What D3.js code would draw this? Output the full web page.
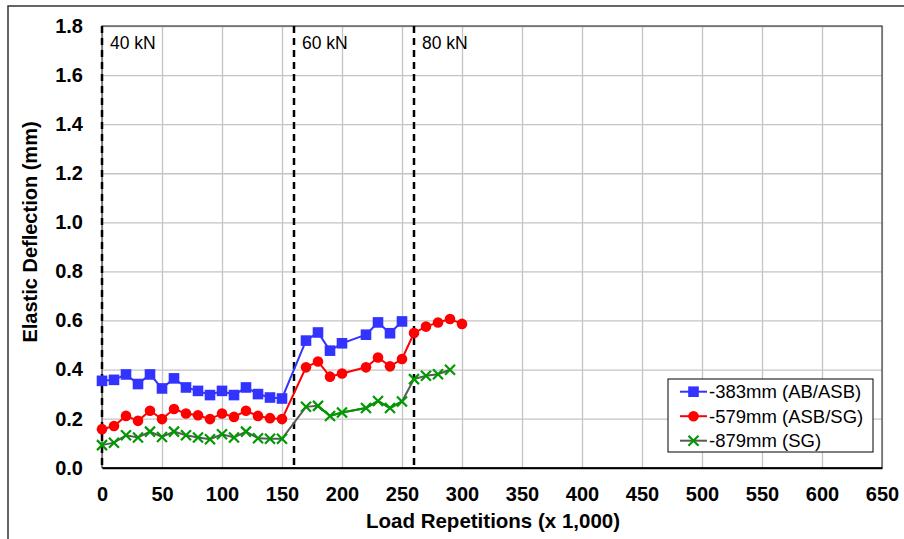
<!DOCTYPE html>
<html>
<head>
<meta charset="utf-8">
<script src="https://cdn.jsdelivr.net/npm/d3@7"></script>
<style>
  body { margin: 0; background: #fff; }
  svg { display: block; font-family: "Liberation Sans", Arial, sans-serif; }
  .tick text { font-weight: bold; font-size: 20px; fill: #000; }
</style>
</head>
<body>
<svg id="chart"></svg>
<script>
// load repetitions (x 1,000) and elastic deflection (mm) per gauge depth
const xAB  = [0,10,20,30,40,50,60,70,80,90,100,110,120,130,140,150,170,180,190,200,220,230,240,250];
const yAB  = [0.354,0.358,0.380,0.341,0.380,0.323,0.364,0.327,0.313,0.296,0.313,0.296,0.327,0.300,0.286,0.282,
              0.518,0.551,0.477,0.507,0.542,0.592,0.548,0.596];
const xASB = [0,10,20,30,40,50,60,70,80,90,100,110,120,130,140,150,170,180,190,200,220,230,240,250,260,270,280,290,300];
const yASB = [0.157,0.170,0.211,0.191,0.232,0.198,0.239,0.221,0.214,0.198,0.221,0.207,0.232,0.211,0.202,0.198,
              0.409,0.433,0.371,0.384,0.409,0.449,0.413,0.443,0.549,0.575,0.592,0.606,0.586];
const xSG  = [0,10,20,30,40,50,60,70,80,90,100,110,120,130,140,150,170,180,190,200,220,230,240,250,260,270,280,290];
const ySG  = [0.092,0.102,0.132,0.123,0.147,0.125,0.147,0.132,0.123,0.116,0.136,0.123,0.147,0.120,0.118,0.118,
              0.248,0.252,0.211,0.225,0.243,0.272,0.243,0.270,0.361,0.375,0.381,0.399];
const seriesNames = ["-383mm (AB/ASB)", "-579mm (ASB/SG)", "-879mm (SG)"];
const stageX = [0, 160, 260];
const stageLabels = ["40 kN", "60 kN", "80 kN"];
const xTicks = d3.range(0, 651, 50);
const yTicks = [0, 0.2, 0.4, 0.6, 0.8, 1.0, 1.2, 1.4, 1.6, 1.8];

const config = {
  width: 904, height: 539,
  margin: { top: 26, left: 102, right: 22, bottom: 72 }
};
const W = config.width - config.margin.left - config.margin.right;
const H = config.height - config.margin.top - config.margin.bottom + 0.7;

const svg = d3.select('#chart')
    .attr('width', config.width)
    .attr('height', config.height);

// outer frame (right/bottom edges run off the picture)
svg.append('rect')
    .attr('x', 8).attr('y', 6)
    .attr('width', 920).attr('height', 560)
    .attr('fill', 'none').attr('stroke', '#333').attr('stroke-width', 1.5);

const chart = svg.append('g')
    .attr('transform', `translate(${config.margin.left},${config.margin.top})`);

const xScale = d3.scaleLinear().domain([0, 650]).range([0, W]);
const yScale = d3.scaleLinear().domain([0, 1.8]).range([H, 0]);

// gridlines
chart.append('g')
    .call(d3.axisBottom(xScale).tickValues(xTicks).tickSize(H).tickFormat(''))
    .call(g => g.select('.domain').remove())
    .selectAll('line').attr('stroke', '#c4c4c4').attr('stroke-width', 1.3);
chart.append('g')
    .call(d3.axisLeft(yScale).tickValues(yTicks).tickSize(-W).tickFormat(''))
    .call(g => g.select('.domain').remove())
    .selectAll('line').attr('stroke', '#c4c4c4').attr('stroke-width', 1.3);

// plot frame
chart.append('rect')
    .attr('width', W).attr('height', H)
    .attr('fill', 'none').attr('stroke', '#444').attr('stroke-width', 1.2);

// axes (labels only)
const xAxisG = chart.append('g')
    .attr('transform', `translate(0,${H})`)
    .call(d3.axisBottom(xScale).tickValues(xTicks).tickSize(0).tickPadding(19).tickFormat(d3.format('d')));
xAxisG.select('.domain').attr('stroke', '#000').attr('stroke-width', 2);

const yAxisG = chart.append('g')
    .call(d3.axisLeft(yScale).tickValues(yTicks).tickSize(0).tickPadding(19).tickFormat(d3.format('.1f')));
yAxisG.select('.domain').remove();

// load stage separators
chart.selectAll('.stage')
    .data(stageX)
    .join('line')
    .attr('class', 'stage')
    .attr('x1', d => xScale(d)).attr('x2', d => xScale(d))
    .attr('y1', 0).attr('y2', H)
    .attr('stroke', '#000').attr('stroke-width', 2.5)
    .attr('stroke-dasharray', '7,5');

chart.selectAll('.stage-label')
    .data(stageX)
    .join('text')
    .attr('class', 'stage-label')
    .attr('x', d => xScale(d) + 8)
    .attr('y', 23)
    .style('font-size', '17.5px')
    .text((d, i) => stageLabels[i]);

const line = d3.line()
    .x(d => xScale(d[0]))
    .y(d => yScale(d[1]));

const dAB  = xAB.map((x, i) => [x, yAB[i]]);
const dASB = xASB.map((x, i) => [x, yASB[i]]);
const dSG  = xSG.map((x, i) => [x, ySG[i]]);

const blue = '#3333ff', red = '#ff0000', green = '#009900', gray = '#595959';

// SG line: gray, with the 60 kN middle stretch drawn green
chart.append('path').datum(dSG)
    .attr('fill', 'none').attr('stroke', gray).attr('stroke-width', 2).attr('d', line);
chart.append('path').datum(dSG.filter(d => d[0] >= 180 && d[0] <= 250))
    .attr('fill', 'none').attr('stroke', green).attr('stroke-width', 2).attr('d', line);

chart.append('path').datum(dASB)
    .attr('fill', 'none').attr('stroke', red).attr('stroke-width', 2).attr('d', line);
chart.append('path').datum(dAB)
    .attr('fill', 'none').attr('stroke', blue).attr('stroke-width', 2).attr('d', line);

function cross(g, s) {
  g.append('path')
    .attr('d', `M${-s},${-s}L${s},${s}M${-s},${s}L${s},${-s}`)
    .attr('stroke', green).attr('stroke-width', 2.2).attr('fill', 'none');
}

chart.selectAll('.m-sg').data(dSG).join('g')
    .attr('class', 'm-sg')
    .attr('transform', d => `translate(${xScale(d[0])},${yScale(d[1])})`)
    .each(function() { cross(d3.select(this), 5); });

chart.selectAll('.m-asb').data(dASB).join('circle')
    .attr('cx', d => xScale(d[0])).attr('cy', d => yScale(d[1]))
    .attr('r', 5.3).attr('fill', red);

chart.selectAll('.m-ab').data(dAB).join('rect')
    .attr('x', d => xScale(d[0]) - 5.3).attr('y', d => yScale(d[1]) - 5.3)
    .attr('width', 10.6).attr('height', 10.6).attr('fill', blue);

// axis titles
svg.append('text')
    .attr('x', 493).attr('y', 528)
    .attr('text-anchor', 'middle')
    .style('font-size', '20.5px').style('font-weight', 'bold')
    .text('Load Repetitions (x 1,000)');

svg.append('text')
    .attr('transform', 'translate(37,232) rotate(-90)')
    .attr('text-anchor', 'middle')
    .style('font-size', '20px').style('font-weight', 'bold')
    .text('Elastic Deflection (mm)');

// legend
const legend = svg.append('g').attr('transform', 'translate(668,379)');
legend.append('rect')
    .attr('width', 205).attr('height', 73)
    .attr('fill', '#fff').attr('stroke', '#000').attr('stroke-width', 1);

const legendColors = [blue, red, gray];
const rows = legend.selectAll('.row').data(seriesNames).join('g')
    .attr('class', 'row')
    .attr('transform', (d, i) => `translate(0,${12.7 + i * 24.5})`);
rows.append('line')
    .attr('x1', 12).attr('x2', 39)
    .attr('stroke', (d, i) => legendColors[i]).attr('stroke-width', 2);
rows.filter((d, i) => i === 0).append('rect')
    .attr('x', 20.2).attr('y', -5.3).attr('width', 10.6).attr('height', 10.6).attr('fill', blue);
rows.filter((d, i) => i === 1).append('circle')
    .attr('cx', 25.5).attr('r', 5.3).attr('fill', red);
rows.filter((d, i) => i === 2).append('g')
    .attr('transform', 'translate(25.5,0)')
    .each(function() { cross(d3.select(this), 5); });
rows.append('text')
    .attr('x', 41).attr('y', 6.6)
    .style('font-size', '18.5px')
    .text(d => d);
</script>
</body>
</html>
